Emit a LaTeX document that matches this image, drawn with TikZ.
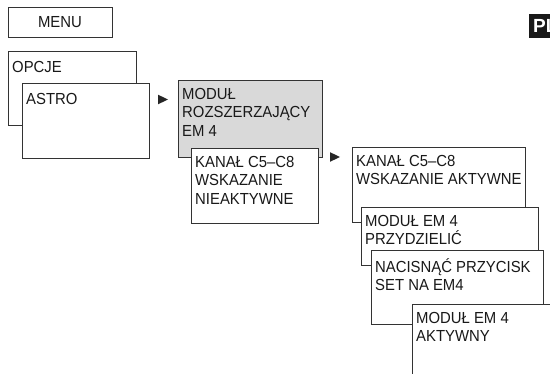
\documentclass[tikz,border=0pt]{standalone}
\usepackage{fontspec}
\setmainfont[FakeStretch=0.93]{Liberation Sans}
\newfontfamily\badgefont{Liberation Sans}

\tikzset{
  menubox/.style={draw=black!80, line width=0.8pt, fill=white, anchor=north west,
    inner sep=0pt, outer sep=0pt},
  menutext/.style={anchor=north west, align=left, inner xsep=4pt, inner ysep=8pt,
    text=black!90, font=\fontsize{16}{18.6}\selectfont, execute at begin node=\strut},
}
% small filled pointer between menu levels
\newcommand{\menumark}[1]{\fill[black!85] #1 -- ++(0,-4.8) -- ++(10,4.8) -- ++(-10,4.8) -- cycle;}

\begin{document}
\begin{tikzpicture}[x=1pt, y=-1pt]
  \useasboundingbox (0,0) rectangle (550,374);
  \clip (0,0) rectangle (550,374);
  \node[menubox, minimum width=104, minimum height=30, text=black!90,
    font=\fontsize{16}{18.6}\selectfont] (menu) at (8,7) {MENU};
  \node[fill=black!90, text=white, anchor=north west, inner xsep=4pt, inner ysep=0pt,
    minimum height=24, font=\badgefont\bfseries\fontsize{19}{19}\selectfont] (lang) at (529,14) {PL};
  % first level
  \node[menubox, minimum width=128, minimum height=74] (opcje) at (8,51) {};
  \node[menutext] at (opcje.north west) {OPCJE};
  \node[menubox, minimum width=127, minimum height=75] (astro) at (22,83) {};
  \node[menutext] at (astro.north west) {ASTRO};
  \menumark{(158,99.5)}
  % second level
  \node[menubox, fill=black!15, minimum width=144, minimum height=77] (modul) at (178,80) {};
  \node[menutext] at (modul.north west) {MODUŁ\\ROZSZERZAJĄCY\\EM 4};
  \node[menubox, minimum width=127, minimum height=75] (nieakt) at (191,148) {};
  \node[menutext] at (nieakt.north west) {KANAŁ C5–C8\\WSKAZANIE\\NIEAKTYWNE};
  \menumark{(330,157)}
  % third level
  \node[menubox, minimum width=173, minimum height=75] (akt) at (352,147) {};
  \node[menutext] at (akt.north west) {KANAŁ C5–C8\\WSKAZANIE AKTYWNE};
  \node[menubox, minimum width=177, minimum height=58] (przydz) at (361,207) {};
  \node[menutext] at (przydz.north west) {MODUŁ EM 4\\PRZYDZIELIĆ};
  \node[menubox, minimum width=172, minimum height=74] (nacisn) at (371,250) {};
  \node[menutext] at (nacisn.north west) {NACISNĄĆ PRZYCISK\\SET NA EM4};
  \node[menubox, minimum width=160, minimum height=100] (aktyw) at (412,304) {};
  \node[menutext] at (aktyw.north west) {MODUŁ EM 4\\AKTYWNY};
\end{tikzpicture}
\end{document}
